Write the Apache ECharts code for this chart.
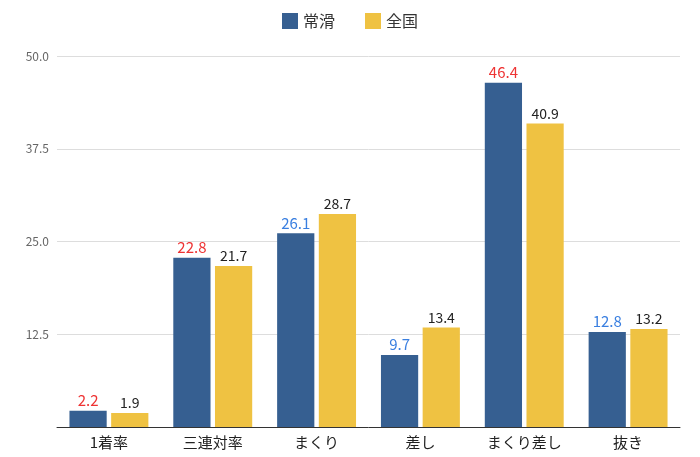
<!DOCTYPE html>
<html><head><meta charset="utf-8">
<script src="https://cdn.jsdelivr.net/npm/echarts@6/dist/echarts.min.js"></script>
<style>html,body{margin:0;padding:0;background:#fff}#c{width:700px;height:457px}</style>
</head><body><div id="c"></div>
<script>
const categories = ['1着率','三連対率','まくり','差し','まくり差し','抜き'];
const tokoname = [2.2, 22.8, 26.1, 9.7, 46.4, 12.8];
const national = [1.9, 21.7, 28.7, 13.4, 40.9, 13.2];
const font = '"Noto Sans CJK JP", "Noto Sans", sans-serif';
const chart = echarts.init(document.getElementById('c'));
chart.setOption({
  animation:false,
  textStyle:{fontFamily:font},
  legend:{top:8,left:'center',itemWidth:16,itemHeight:16,itemGap:30,icon:'rect',
    textStyle:{fontSize:16,color:'#333',fontFamily:font},data:['常滑','全国']},
  grid:{left:57,right:20,top:56,bottom:30},
  xAxis:{type:'category',data:categories,axisTick:{show:false},
    axisLine:{lineStyle:{color:'#333',width:1}},
    axisLabel:{fontSize:15,color:'#222',margin:8,fontFamily:font}},
  yAxis:{type:'value',min:0,max:50,interval:12.5,
    axisLabel:{color:'#666',fontSize:12,formatter:v=>v===0?'':v.toFixed(1)},
    splitLine:{lineStyle:{color:'#ddd'}},axisLine:{show:false},axisTick:{show:false}},
  series:[
    {name:'常滑',type:'bar',barGap:'12%',barCategoryGap:'24%',itemStyle:{color:'#365f91'},
     data:tokoname.map((v,i)=>({value:v,label:{color:v>national[i]?'#ee3333':'#3a7fe0'}})),
     label:{show:true,position:'top',fontSize:15,distance:3,formatter:p=>p.value.toFixed(1)}},
    {name:'全国',type:'bar',itemStyle:{color:'#efc242'},data:national,
     label:{show:true,position:'top',fontSize:14,color:'#222',distance:3,formatter:p=>p.value.toFixed(1)}}
  ]
});
</script></body></html>
